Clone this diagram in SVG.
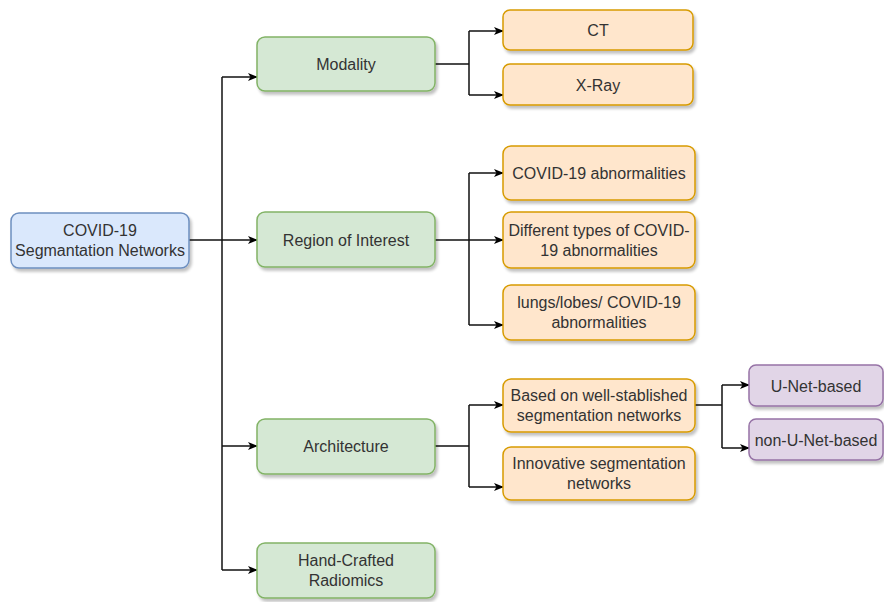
<svg xmlns="http://www.w3.org/2000/svg" width="884" height="602" viewBox="0 0 884 602">
  <defs>
    <filter id="shadow" x="-10%" y="-10%" width="130%" height="140%">
      <feGaussianBlur in="SourceAlpha" stdDeviation="1.5"/>
      <feOffset dx="2" dy="3" result="off"/>
      <feComponentTransfer><feFuncA type="linear" slope="0.25"/></feComponentTransfer>
      <feMerge><feMergeNode/><feMergeNode in="SourceGraphic"/></feMerge>
    </filter>
    <marker id="arrow" viewBox="0 0 10 10" refX="9" refY="5" markerWidth="10" markerHeight="10" markerUnits="userSpaceOnUse" orient="auto">
      <path d="M0,1 L10,5 L0,9 L2.5,5 Z" fill="#000"/>
    </marker>
    <style>
      rect { stroke-width: 1.5; filter: url(#shadow); }
      .blue rect { fill: #dae8fc; stroke: #6c8ebf; }
      .green rect { fill: #d5e8d4; stroke: #82b366; }
      .orange rect { fill: #ffe6cc; stroke: #d79b00; }
      .purple rect { fill: #e1d5e7; stroke: #9673a6; }
      text { font-family: "Liberation Sans", Arial, sans-serif; font-size: 16px; fill: #333; text-anchor: middle; }
      #connectors path { fill: none; stroke: #111; stroke-width: 1.5; }
      #connectors .arr { marker-end: url(#arrow); }
    </style>
  </defs>
  <rect x="0" y="0" width="884" height="602" fill="#fff" style="filter:none;stroke:none"/>

  <g id="connectors">
    <!-- root trunk -->
    <path d="M189,240 H222"/>
    <path d="M222,77 V570"/>
    <path class="arr" d="M222,77 H257"/>
    <path class="arr" d="M222,240 H257"/>
    <path class="arr" d="M222,446 H257"/>
    <path class="arr" d="M222,570 H257"/>
    <!-- modality -->
    <path d="M435,64 H469 M469,31 V95"/>
    <path class="arr" d="M469,31 H503"/>
    <path class="arr" d="M469,95 H503"/>
    <!-- region of interest -->
    <path d="M435,240 H469 M469,173 V325"/>
    <path class="arr" d="M469,173 H503"/>
    <path class="arr" d="M469,240 H503"/>
    <path class="arr" d="M469,325 H503"/>
    <!-- architecture -->
    <path d="M435,446 H469 M469,405 V487"/>
    <path class="arr" d="M469,405 H503"/>
    <path class="arr" d="M469,487 H503"/>
    <!-- well-established networks -->
    <path d="M695,405 H722 M722,385 V448"/>
    <path class="arr" d="M722,385 H749"/>
    <path class="arr" d="M722,448 H749"/>
  </g>

  <g id="root" class="blue">
    <rect x="11" y="213" width="178" height="55" rx="8"/>
    <text x="100" y="236">COVID-19</text>
    <text x="100" y="256">Segmantation Networks</text>
  </g>

  <g id="modality" class="green">
    <rect x="257" y="37" width="178" height="54" rx="8"/>
    <text x="346" y="70">Modality</text>
  </g>
  <g id="roi" class="green">
    <rect x="257" y="212" width="178" height="55" rx="8"/>
    <text x="346" y="246">Region of Interest</text>
  </g>
  <g id="architecture" class="green">
    <rect x="257" y="419" width="178" height="55" rx="8"/>
    <text x="346" y="452">Architecture</text>
  </g>
  <g id="radiomics" class="green">
    <rect x="257" y="543" width="178" height="55" rx="8"/>
    <text x="346" y="566">Hand-Crafted</text>
    <text x="346" y="586">Radiomics</text>
  </g>

  <g id="ct" class="orange">
    <rect x="503" y="10" width="190" height="40" rx="7"/>
    <text x="598" y="36">CT</text>
  </g>
  <g id="xray" class="orange">
    <rect x="503" y="64" width="190" height="41" rx="7"/>
    <text x="598" y="91">X-Ray</text>
  </g>

  <g id="covid-abn" class="orange">
    <rect x="503" y="146" width="192" height="54" rx="8"/>
    <text x="599" y="179">COVID-19 abnormalities</text>
  </g>
  <g id="types-abn" class="orange">
    <rect x="503" y="212" width="192" height="56" rx="8"/>
    <text x="599" y="236">Different types of COVID-</text>
    <text x="599" y="256">19 abnormalities</text>
  </g>
  <g id="lungs-abn" class="orange">
    <rect x="503" y="285" width="192" height="55" rx="8"/>
    <text x="599" y="308">lungs/lobes/ COVID-19</text>
    <text x="599" y="328">abnormalities</text>
  </g>

  <g id="established" class="orange">
    <rect x="503" y="379" width="192" height="53" rx="8"/>
    <text x="599" y="401">Based on well-stablished</text>
    <text x="599" y="421">segmentation networks</text>
  </g>
  <g id="innovative" class="orange">
    <rect x="503" y="447" width="192" height="53" rx="8"/>
    <text x="599" y="469">Innovative segmentation</text>
    <text x="599" y="489">networks</text>
  </g>

  <g id="unet" class="purple">
    <rect x="749" y="365" width="134" height="41" rx="7"/>
    <text x="816" y="392">U-Net-based</text>
  </g>
  <g id="non-unet" class="purple">
    <rect x="749" y="419" width="134" height="41" rx="7"/>
    <text x="816" y="446">non-U-Net-based</text>
  </g>
</svg>
